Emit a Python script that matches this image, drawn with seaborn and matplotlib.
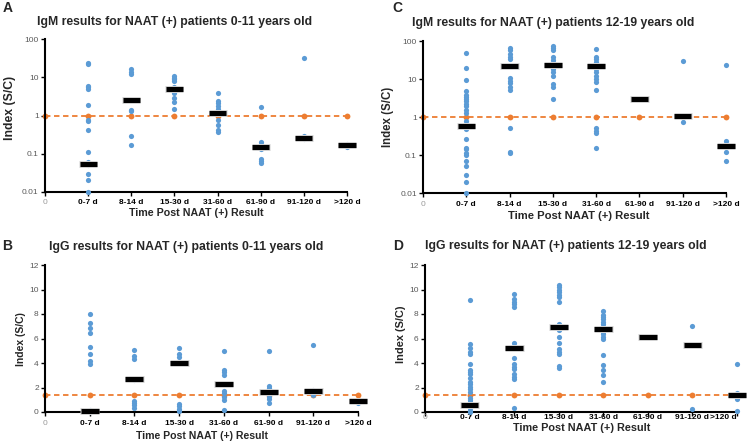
import numpy as np
import pandas as pd
import matplotlib.pyplot as plt
import seaborn as sns

sns.set_theme(style="white")
plt.rcParams["font.family"] = ["Liberation Sans", "DejaVu Sans"]

# categories on the x axis
categories = ["0-7 d", "8-14 d", "15-30 d", "31-60 d", "61-90 d", "91-120 d", ">120 d"]

# panel A: IgM, 0-11 years
igm_young = {
    "0-7 d": [24, 22, 6, 5.4, 4.9, 1.9, 0.75, 0.7, 0.43, 0.11, 0.06, 0.055, 0.05, 0.03, 0.02, 0.01],
    "8-14 d": [16, 14, 12.5, 2.5, 1.4, 1.3, 0.3, 0.17],
    "15-30 d": [10.9, 9.6, 8.8, 8.1, 5.6, 4.9, 3.8, 2.9, 2.3, 1.45],
    "31-60 d": [3.77, 2.4, 2.1, 1.8, 1.5, 1.17, 0.75, 0.56, 0.43, 0.37],
    "61-90 d": [1.62, 0.2, 0.17, 0.15, 0.13, 0.072, 0.064, 0.058],
    "91-120 d": [31, 0.3, 0.26, 0.24],
    ">120 d": [0.18, 0.15],
}
igm_young_median = [0.055, 2.5, 4.9, 1.17, 0.15, 0.265, 0.167]

# panel C: IgM, 12-19 years
igm_teen = {
    "0-7 d": [47.7, 19.4, 9.2, 4.96, 3.83, 3.32, 2.89, 2.56, 2.23, 1.94, 1.49, 1.3, 0.77, 0.61,
              0.47, 0.26, 0.155, 0.14, 0.11, 0.1, 0.07, 0.05, 0.03, 0.02, 0.01],
    "8-14 d": [66, 58, 45, 39, 33, 10.4, 9, 7.9, 6.1, 5, 0.5, 0.12, 0.11],
    "15-30 d": [74, 67, 58, 37, 32, 27, 18, 15, 12.2, 7.4, 6.1, 3.0],
    "31-60 d": [63, 39, 33, 28, 18, 15, 12.2, 10, 8.2, 5, 0.5, 0.42, 0.37, 0.15],
    "61-90 d": [3.0],
    "91-120 d": [29.5, 1.04, 0.74],
    ">120 d": [23, 0.23, 0.12, 0.07],
}
igm_teen_median = [0.58, 22.3, 23, 22.3, 3.0, 1.04, 0.175]

# panel B: IgG, 0-11 years
igg_young = {
    "0-7 d": [8.0, 7.25, 6.85, 6.45, 5.3, 4.7, 4.15, 3.9, 0.2, 0.05, 0.0],
    "8-14 d": [5.05, 4.6, 4.35, 2.6, 0.92, 0.71, 0.55, 0.35],
    "15-30 d": [5.2, 4.7, 4.5, 4.0, 0.65, 0.46, 0.27, 0.08],
    "31-60 d": [4.97, 3.43, 3.24, 3.0, 2.3, 1.74, 1.55, 1.2, 1.0, 0.13],
    "61-90 d": [5.0, 2.12, 1.93, 1.8, 1.63, 1.25, 1.06, 0.76],
    "91-120 d": [5.47, 1.8, 1.35],
    ">120 d": [0.92, 0.75],
}
igg_young_median = [0.05, 2.67, 4.03, 2.32, 1.63, 1.71, 0.92]

# panel D: IgG, 12-19 years
igg_teen = {
    "0-7 d": [9.14, 5.52, 5.2, 4.93, 4.73, 3.89, 3.43, 3.24, 3.08, 2.75, 2.48, 2.26, 2.07, 1.88,
              1.66, 1.17, 0.98, 0.84, 0.68, 0.49, 0.3, 0.08, 0.0],
    "8-14 d": [9.61, 9.2, 9.0, 8.79, 8.6, 5.6, 5.2, 4.38, 3.89, 3.7, 3.49, 3.1, 2.88, 2.67, 0.35],
    "15-30 d": [10.37, 10.18, 9.96, 9.77, 9.55, 9.36, 8.95, 7.16, 6.96, 6.69, 6.15, 5.61, 5.14,
                4.92, 4.73, 3.76, 3.57],
    "31-60 d": [8.24, 7.92, 7.73, 7.57, 7.37, 7.16, 6.96, 6.75, 6.56, 6.34, 6.15, 5.96, 4.65,
                3.84, 3.43, 3.02, 2.48],
    "61-90 d": [6.1],
    "91-120 d": [6.99, 5.47, 0.22],
    ">120 d": [3.92, 1.55, 1.06, 0.08],
}
igg_teen_median = [0.57, 5.2, 6.96, 6.75, 6.12, 5.47, 1.35]

igm_cutoff = 1.0
igg_cutoff = 1.4

BLUE = "#5B9BD5"
ORANGE = "#ED7D31"
GRAY = "#595959"

W, H = 747, 442
fig = plt.figure(figsize=(W / 100, H / 100), dpi=100)


def box(l, t, r, b):
    return [l / W, 1 - b / H, (r - l) / W, (b - t) / H]


def draw_panel(rect, values, medians, cutoff, log, pad=1.5, last_right=False):
    ax = fig.add_axes(rect)
    rows = [(i + 1, v) for i, c in enumerate(categories) for v in values[c]]
    df = pd.DataFrame(rows, columns=["pos", "value"])

    # cutoff line through 0..7
    cut = pd.DataFrame({"pos": np.arange(len(categories) + 1), "value": cutoff})
    sns.lineplot(data=cut, x="pos", y="value", ax=ax, color=ORANGE, lw=1.3,
                 linestyle=(0, (3, 2)), marker="o", markersize=4.2,
                 markeredgewidth=0, zorder=2, clip_on=False)

    sns.scatterplot(data=df, x="pos", y="value", ax=ax, color=BLUE, s=14,
                    linewidth=0, zorder=3, clip_on=False)

    pos = np.arange(1, len(categories) + 1)
    ax.hlines(medians, pos - 0.21, pos + 0.21, color="#d0d0d0", lw=5, zorder=4, clip_on=False)
    ax.hlines(medians, pos - 0.2, pos + 0.2, color="black", lw=3.6, zorder=5, clip_on=False)

    ax.set_xlim(0, len(categories))
    ax.set_xticks(np.arange(len(categories) + 1))
    ax.set_xticklabels(["0"] + categories)
    labels = ax.get_xticklabels()
    for i, lab in enumerate(labels):
        if i == 0:
            lab.set_color("#9a9a9a")
            lab.set_fontsize(6)
        else:
            lab.set_fontweight("bold")
            lab.set_fontsize(6)
            lab.set_color("black")
    if last_right:
        labels[-1].set_horizontalalignment("right")

    if log:
        ax.set_yscale("log")
        ax.set_ylim(0.01, 100)
        ticks = [0.01, 0.1, 1, 10, 100]
        ax.set_yticks(ticks)
        ax.set_yticklabels(["0.01", "0.1", "1", "10", "100"])
        ax.minorticks_off()
    else:
        ax.set_ylim(0, 12)
        ax.set_yticks(range(0, 13, 2))
        ax.set_yticklabels([str(t) for t in range(0, 13, 2)])
    for lab in ax.get_yticklabels():
        lab.set_color(GRAY)
        lab.set_fontsize(6)

    ax.set_xlabel("")
    ax.set_ylabel("")
    for s in ["top", "right"]:
        ax.spines[s].set_visible(False)
    for s in ["left", "bottom"]:
        ax.spines[s].set_color("black")
        ax.spines[s].set_linewidth(1.5)
    ax.tick_params(axis="both", which="major", direction="out", length=3,
                   width=1, color="black", pad=1.5, left=True, bottom=True)
    ax.tick_params(axis="x", pad=pad)
    ax.patch.set_alpha(0)
    return ax


draw_panel(box(45, 39, 347, 192), igm_young, igm_young_median, igm_cutoff, True, pad=2)
draw_panel(box(423, 41, 726, 193), igm_teen, igm_teen_median, igm_cutoff, True, pad=3)
draw_panel(box(45, 265, 358, 412), igg_young, igg_young_median, igg_cutoff, False, pad=3)
draw_panel(box(425, 265, 737, 412), igg_teen, igg_teen_median, igg_cutoff, False,
           pad=-1.5, last_right=True)


def txt(x, y, s, **kw):
    fig.text(x / W, 1 - y / H, s, ha="center", va="center", **kw)


# panel letters
txt(8, 8, "A", fontsize=10, fontweight="bold")
txt(397, 8, "C", fontsize=10, fontweight="bold")
txt(7, 246, "B", fontsize=10, fontweight="bold")
txt(398, 246, "D", fontsize=10, fontweight="bold")

# titles
txt(175, 22, "IgM results for NAAT (+) patients 0-11 years old", fontsize=8.8, fontweight="bold")
txt(553, 23, "IgM results for NAAT (+) patients 12-19 years old", fontsize=8.8, fontweight="bold")
txt(186, 247, "IgG results for NAAT (+) patients 0-11 years old", fontsize=8.8, fontweight="bold")
txt(566, 246, "IgG results for NAAT (+) patients 12-19 years old", fontsize=8.8, fontweight="bold")

# axis labels
txt(10, 108, "Index (S/C)", fontsize=8.8, fontweight="bold", rotation=90)
txt(388, 117, "Index (S/C)", fontsize=8.3, fontweight="bold", rotation=90)
txt(21, 339, "Index (S/C)", fontsize=7.5, fontweight="bold", rotation=90)
txt(401, 334, "Index (S/C)", fontsize=7.9, fontweight="bold", rotation=90)

txt(196, 213, "Time Post NAAT (+) Result", fontsize=7.7, fontweight="bold")
txt(579, 216, "Time Post NAAT (+) Result", fontsize=8.1, fontweight="bold")
txt(202, 436, "Time Post NAAT (+) Result", fontsize=7.6, fontweight="bold")
txt(582, 428, "Time Post NAAT (+) Result", fontsize=7.8, fontweight="bold")

fig.savefig("out.png", dpi=100)
